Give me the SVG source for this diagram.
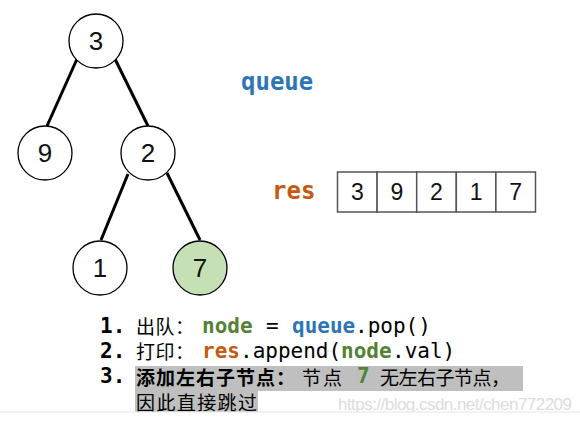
<svg xmlns="http://www.w3.org/2000/svg" width="580" height="423" viewBox="0 0 580 423">
<style>
.node circle{fill:#fff;stroke:#000;stroke-width:1.3}
.node text,.cell text{font-family:"Liberation Sans",Arial,sans-serif;font-size:26px;text-anchor:middle;fill:#111}
.cell text{font-size:23px}
.edges line{stroke:#000;stroke-width:3}
.mono{font-family:"DejaVu Sans Mono","Liberation Mono",monospace;font-size:21px}
.b{font-weight:bold}
.cjk{font-family:"Noto Sans CJK SC","Noto Sans",sans-serif;font-size:19px}
.g{fill:#548235}.bl{fill:#2e75b6}.o{fill:#c55a11}
.cell rect{fill:#fff;stroke:#555;stroke-width:1.5}
</style>
<rect width="580" height="423" fill="#fff"/>
<g id="edges" class="edges">
<line x1="77" y1="59" x2="47" y2="126"/>
<line x1="115" y1="59" x2="148" y2="126"/>
<line x1="128" y1="174" x2="101" y2="240"/>
<line x1="167" y1="173" x2="200" y2="240"/>
</g>
<g id="n3" class="node"><circle cx="96" cy="41" r="27"/><text x="96" y="50">3</text></g>
<g id="n9" class="node"><circle cx="45" cy="153" r="27"/><text x="45" y="162">9</text></g>
<g id="n2" class="node"><circle cx="148" cy="153" r="27"/><text x="148" y="162">2</text></g>
<g id="n1" class="node"><circle cx="100" cy="268" r="27"/><text x="100" y="277">1</text></g>
<g id="n7" class="node"><circle cx="200" cy="268" r="27" style="fill:#c5e0b4"/><text x="200" y="277">7</text></g>
<text id="queue" x="241" y="90" class="mono b bl" style="font-size:24px">queue</text>
<text id="res-label" x="272" y="199" class="mono b o" style="font-size:24px">res</text>
<g id="res" class="cell">
<rect x="337.5" y="172" width="39.6" height="40"/>
<rect x="377.1" y="172" width="39.6" height="40"/>
<rect x="416.7" y="172" width="39.6" height="40"/>
<rect x="456.3" y="172" width="39.6" height="40"/>
<rect x="495.9" y="172" width="39.6" height="40"/>
<text x="357.3" y="200">3</text>
<text x="396.9" y="200">9</text>
<text x="436.5" y="200">2</text>
<text x="476.1" y="200">1</text>
<text x="515.7" y="200">7</text>
</g>
<g id="steps">
<rect x="135" y="366" width="388" height="25" fill="#bfbfbf"/>
<rect x="135" y="391" width="123" height="21" fill="#bfbfbf"/>
<text x="100" y="333" class="mono b">1.</text>
<text x="136" y="334" class="cjk" textLength="58">出队：</text>
<text x="202" y="333" class="mono b g">node</text>
<text x="266" y="333" class="mono">=</text>
<text x="292" y="333" class="mono b bl">queue</text>
<text x="355" y="333" class="mono">.pop()</text>
<text x="100" y="358" class="mono b">2.</text>
<text x="136" y="359" class="cjk" textLength="58">打印：</text>
<text x="202" y="358" class="mono b o">res</text>
<text x="240" y="358" class="mono">.append(</text>
<text x="341" y="358" class="mono b g">node</text>
<text x="392" y="358" class="mono">.val)</text>
<text x="100" y="383" class="mono b">3.</text>
<text x="136" y="385" class="cjk b" textLength="159">添加左右子节点：</text>
<text x="302" y="385" class="cjk" textLength="40">节点</text>
<text x="357" y="383" class="mono b g">7</text>
<text x="380" y="385" class="cjk" textLength="130">无左右子节点，</text>
<text x="136" y="410" class="cjk" textLength="121">因此直接跳过</text>
</g>
<text x="338" y="410" font-family="Liberation Sans,Arial,sans-serif" font-size="17" fill="#dcdcdc" textLength="234">https://blog.csdn.net/chen772209</text>
<rect x="0" y="412" width="580" height="11" fill="#fff"/>
<line x1="0" y1="412" x2="580" y2="412" stroke="#e6e6e6" stroke-width="1"/>
</svg>
